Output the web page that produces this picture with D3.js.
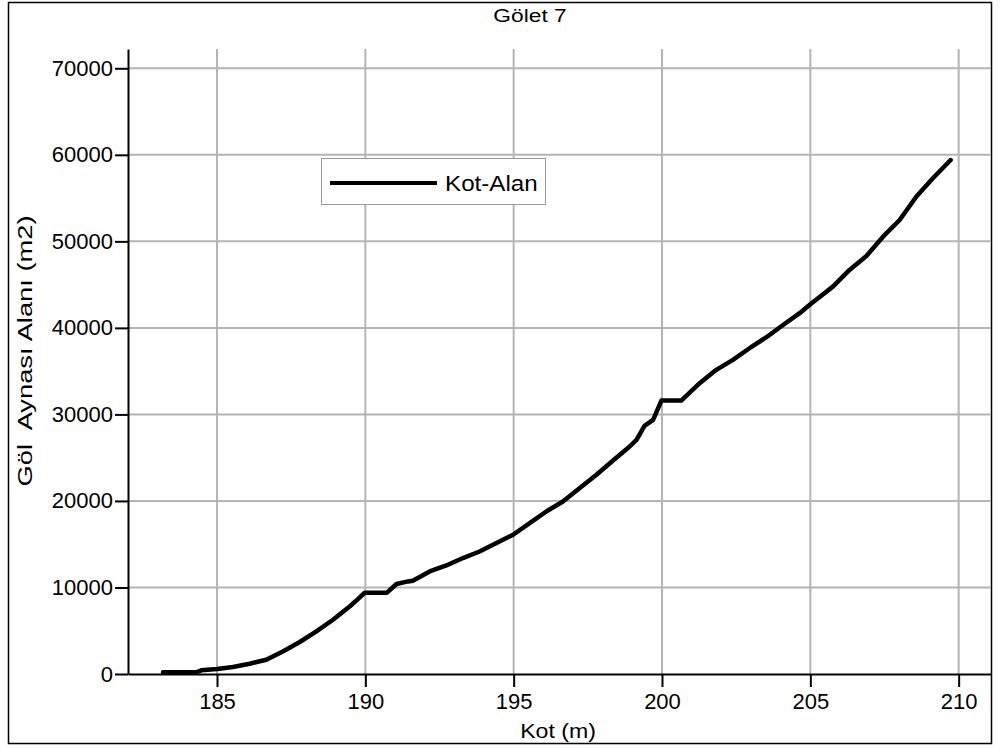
<!DOCTYPE html>
<html>
<head>
<meta charset="utf-8">
<script src="https://cdn.jsdelivr.net/npm/d3@7"></script>
<style>
  html, body { margin: 0; padding: 0; background: #fff; }
  svg text { font-family: "Liberation Sans", Arial, sans-serif; fill: #000; }
</style>
</head>
<body>
<svg id="chart" width="1000" height="749"></svg>
<script>
// Kot (m) – göl aynası alanı (m2) ilişkisi
const kot = [183.18, 184.3, 184.47, 185.0, 185.54, 186.1, 186.66, 187.22, 187.79, 188.35,
  188.91, 189.47, 189.75, 189.98, 190.73, 191.05, 191.44, 191.6, 192.17, 192.73,
  193.29, 193.85, 194.42, 194.98, 195.54, 196.1, 196.66, 197.22, 197.79, 198.35,
  198.91, 199.14, 199.41, 199.7, 199.98, 200.65, 201.27, 201.83, 202.39, 202.95,
  203.52, 204.08, 204.64, 205.01, 205.76, 206.32, 206.89, 207.45, 208.01, 208.57,
  209.13, 209.73];
const alan = [200, 200, 420, 580, 810, 1190, 1650, 2610, 3700, 4920,
  6270, 7800, 8660, 9400, 9400, 10400, 10700, 10780, 11850, 12540,
  13400, 14160, 15130, 16090, 17440, 18780, 19940, 21480, 23020, 24670,
  26290, 27060, 28680, 29370, 31600, 31600, 33610, 35150, 36300, 37650,
  38920, 40340, 41700, 42770, 44770, 46700, 48310, 50540, 52470, 55160,
  57290, 59400];
const xTicks = [185, 190, 195, 200, 205, 210];
const yTicks = [0, 10000, 20000, 30000, 40000, 50000, 60000, 70000];
const seriesName = "Kot-Alan";
const chartTitle = "Gölet 7";
const xTitle = "Kot (m)";
const yTitle = "Göl  Aynası Alanı (m2)";

const svg = d3.select("#chart");
const plotL = 128, plotR = 991, plotT = 49, plotB = 674;

const x = d3.scaleLinear().domain([182, 211.09]).range([plotL, plotR]);
const y = d3.scaleLinear().domain([0, 72230]).range([plotB, plotT]);

// outer frame
svg.append("rect").attr("x", 8.5).attr("y", 2.5).attr("width", 983).attr("height", 741)
  .attr("fill", "#fff").attr("stroke", "#000").attr("stroke-width", 1.5);

// grid
const grid = svg.append("g").attr("stroke", "#b4b4b4").attr("stroke-width", 2);
grid.selectAll(".vg").data(xTicks).join("line")
  .attr("x1", d => x(d)).attr("x2", d => x(d)).attr("y1", plotT).attr("y2", plotB);
grid.selectAll(".hg").data(yTicks.filter(d => d > 0)).join("line")
  .attr("x1", plotL).attr("x2", plotR).attr("y1", d => y(d)).attr("y2", d => y(d));

// axes
const xAxis = svg.append("g").attr("transform", `translate(0,${plotB})`)
  .call(d3.axisBottom(x).tickValues(xTicks).tickSize(13).tickPadding(6).tickSizeOuter(0));
const yAxis = svg.append("g").attr("transform", `translate(${plotL},0)`)
  .call(d3.axisLeft(y).tickValues(yTicks).tickSize(13).tickPadding(2).tickSizeOuter(0)
    .tickFormat(d3.format("d")));
[xAxis, yAxis].forEach(g => {
  g.select(".domain").attr("stroke", "#000").attr("stroke-width", 2);
  g.selectAll(".tick line").attr("stroke", "#000").attr("stroke-width", 2);
  g.selectAll(".tick text").attr("font-size", 22).attr("fill", "#000")
    .attr("font-family", "Liberation Sans, Arial, sans-serif");
});

// curve
const line = d3.line().x((d, i) => x(kot[i])).y((d, i) => y(alan[i]));
svg.append("path").datum(alan).attr("d", line)
  .attr("fill", "none").attr("stroke", "#000").attr("stroke-width", 4.5)
  .attr("stroke-linejoin", "round").attr("stroke-linecap", "round");

// legend
const lg = svg.append("g");
lg.append("rect").attr("x", 321.5).attr("y", 158.5).attr("width", 224).attr("height", 46)
  .attr("fill", "#fff").attr("stroke", "#999").attr("stroke-width", 1);
lg.append("line").attr("x1", 330).attr("x2", 437).attr("y1", 183).attr("y2", 183)
  .attr("stroke", "#000").attr("stroke-width", 4);
lg.append("text").attr("transform", "translate(445,191) scale(1.1,1)")
  .attr("font-size", 22).text(seriesName);

// titles (slightly widened lettering)
svg.append("text").attr("transform", "translate(530,22) scale(1.2,1)")
  .attr("text-anchor", "middle").attr("font-size", 19).text(chartTitle);
svg.append("text").attr("transform", "translate(558,738) scale(1.1,1)")
  .attr("text-anchor", "middle").attr("font-size", 21).text(xTitle);
svg.append("text").attr("transform", "translate(32,351) rotate(-90) scale(1.3,1)")
  .attr("text-anchor", "middle").attr("font-size", 21).style("white-space", "pre")
  .text(yTitle);
</script>
</body>
</html>
